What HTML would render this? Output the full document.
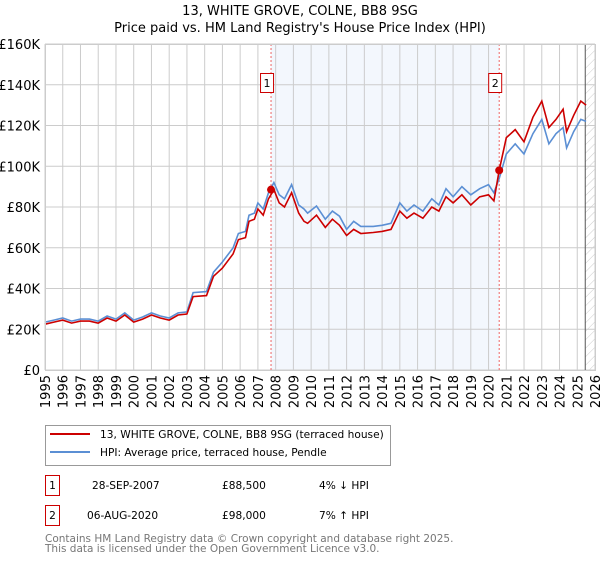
<!DOCTYPE html>
<html><head><meta charset="utf-8"><style>
body{margin:0;background:#fff;font-family:"DejaVu Sans","Liberation Sans",sans-serif;}
svg text{font-family:"DejaVu Sans","Liberation Sans",sans-serif;}
</style></head><body>
<svg id="chart" width="600" height="560" xmlns="http://www.w3.org/2000/svg">
<defs><pattern id="hatch" width="6" height="6" patternUnits="userSpaceOnUse" patternTransform="rotate(45)"><line x1="0" y1="0" x2="0" y2="6" stroke="#ccc" stroke-width="1"/></pattern></defs>
<text x="300" y="15" font-size="13" text-anchor="middle">13, WHITE GROVE, COLNE, BB8 9SG</text>
<text x="300" y="32" font-size="13" text-anchor="middle">Price paid vs. HM Land Registry's House Price Index (HPI)</text>
<g id="plot"></g>
<rect x="45.5" y="425.5" width="345" height="40" fill="#fff" stroke="#999"/>
<line x1="50" y1="434" x2="90" y2="434" stroke="#cc0000" stroke-width="2"/>
<text x="100" y="438" font-size="10.6">13, WHITE GROVE, COLNE, BB8 9SG (terraced house)</text>
<line x1="50" y1="452" x2="90" y2="452" stroke="#5b8fd4" stroke-width="2"/>
<text x="100" y="456" font-size="10.6">HPI: Average price, terraced house, Pendle</text>
<g font-size="10.6">
<rect x="45.5" y="475.5" width="14" height="20" fill="#fff" stroke="#cc0000"/><text x="52.5" y="489" text-anchor="middle">1</text>
<text x="92" y="489">28-SEP-2007</text><text x="222" y="489">£88,500</text><text x="319" y="489">4% ↓ HPI</text></g>
<g font-size="10.6">
<rect x="45.5" y="505.5" width="14" height="20" fill="#fff" stroke="#cc0000"/><text x="52.5" y="519" text-anchor="middle">2</text>
<text x="87" y="519">06-AUG-2020</text><text x="222" y="519">£98,000</text><text x="319" y="519">7% ↑ HPI</text></g>
<text x="45" y="542" font-size="10.5" fill="#777">Contains HM Land Registry data © Crown copyright and database right 2025.</text>
<text x="45" y="552" font-size="10.5" fill="#777">This data is licensed under the Open Government Licence v3.0.</text>
</svg>
<script>
const years=[1995,1995.5,1996,1996.5,1997,1997.5,1998,1998.5,1999,1999.5,2000,2000.5,2001,2001.5,2002,2002.5,2003,2003.35,2004.1,2004.5,2005,2005.6,2005.9,2006.3,2006.5,2006.8,2007,2007.3,2007.6,2007.9,2008.2,2008.5,2008.9,2009.3,2009.6,2009.8,2010.3,2010.8,2011.2,2011.6,2012,2012.4,2012.8,2013.5,2014,2014.5,2015,2015.4,2015.8,2016.3,2016.8,2017.2,2017.6,2018,2018.5,2019,2019.5,2020,2020.3,2020.6,2021,2021.5,2022,2022.5,2023,2023.4,2023.8,2024.2,2024.4,2024.8,2025.2,2025.5];
const hpiValues=[23.5,24.5,25.5,24,25,25,24,26.5,25,28,24.5,26,28,26.5,25.5,28,28.5,38,38.5,48,53,60,67,68,76,77,82,79,87,92,86,84,91,81,79,77,80.5,74,78,75.5,69,73,70.5,70.5,71,72,82,78,81,78,84,81,89,85,90,86,89,91,87,94,106,111,106,116,123,111,116,119,109,117,123,122];
const priceValues=[22.5,23.5,24.5,23,24,24,23,25.5,24,27,23.5,25,27,25.5,24.5,27,27.5,36,36.5,46,50,57,64,65,73,74,79,76,84,88.5,82,80,87,77,73,72,76,70,74,71,66,69,67,67.5,68,69,78,74.5,77,74.5,80,78,85,82,86,81,85,86,83,98,114,118,112,124,132,119,123,128,117,125,132,130];
const yTicks=[0,20,40,60,80,100,120,140,160];
const yTickLabels=["£0","£20K","£40K","£60K","£80K","£100K","£120K","£140K","£160K"];
const xTicks=[1995,1996,1997,1998,1999,2000,2001,2002,2003,2004,2005,2006,2007,2008,2009,2010,2011,2012,2013,2014,2015,2016,2017,2018,2019,2020,2021,2022,2023,2024,2025,2026];
const saleYears=[2007.74,2020.6];
const saleValues=[88.5,98];
const saleLabels=["1","2"];
const L=45,R=595,T=44,B=370;
const x=y=>L+(y-1995)*(R-L)/31;
const yv=v=>B-v*(B-T)/160;
const NS="http://www.w3.org/2000/svg";
const g=document.getElementById('plot');
function mk(t,a,p){const e=document.createElementNS(NS,t);for(const k in a)e.setAttribute(k,a[k]);(p||g).appendChild(e);return e;}
let e=mk('rect',{x:x(saleYears[0]),y:T,width:x(saleYears[1])-x(saleYears[0]),height:B-T,fill:'#eef3fc',opacity:0.7});


e=mk('rect',{x:x(2025.45),y:T,width:R-x(2025.45),height:B-T,fill:'url(#hatch)'});


yTicks.forEach((t,i)=>{
 e=mk('line',{x1:L,x2:R,y1:yv(t),y2:yv(t),stroke:'#ccc'});
 
 
 e=mk('text',{x:L-5,y:yv(t)+5,'text-anchor':'end','font-size':'13'});e.textContent=yTickLabels[i];
 
 
});
xTicks.forEach(t=>{
 e=mk('line',{x1:x(t),x2:x(t),y1:T,y2:B,stroke:'#ccc'});
 
 
 e=mk('text',{x:0,y:0,'font-size':'13','text-anchor':'end',transform:`translate(${x(t)+5},${B+5}) rotate(-90)`});e.textContent=t;
 
 
});
e=mk('line',{x1:x(2025.45),x2:x(2025.45),y1:T,y2:B,stroke:'#555'});


saleYears.forEach((s,i)=>{
 e=mk('line',{x1:x(s),x2:x(s),y1:T,y2:B,stroke:'#e66','stroke-dasharray':'2,2'});
 
 
});
const pts=v=>years.map((y,i)=>x(y).toFixed(1)+','+yv(v[i]).toFixed(1)).join(' ');
e=mk('polyline',{points:pts(hpiValues),fill:'none',stroke:'#5b8fd4','stroke-width':1.6});


e=mk('polyline',{points:pts(priceValues),fill:'none',stroke:'#cc0000','stroke-width':1.6});


saleYears.forEach((s,i)=>{
 e=mk('circle',{cx:x(s),cy:yv(saleValues[i]),r:4,fill:'#cc0000'});
 
 
 e=mk('rect',{x:x(s)-10.5,y:73.5,width:13,height:19,fill:'#fff',stroke:'#cc0000'});
 
 
 e=mk('text',{x:x(s)-4,y:87,'text-anchor':'middle','font-size':'11'});e.textContent=saleLabels[i];
 
 
});
e=mk('rect',{x:L+.5,y:T+.5,width:R-L,height:B-T,fill:'none',stroke:'#ccc'});


</script>
</body></html>
